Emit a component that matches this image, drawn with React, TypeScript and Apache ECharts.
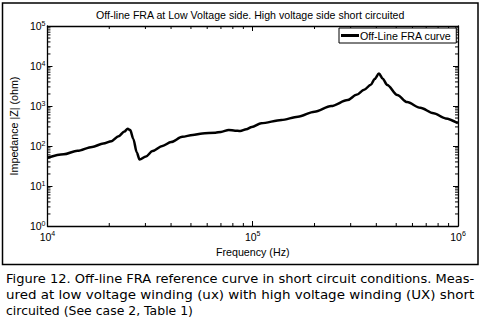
import React, { useEffect, useRef } from 'react';
import * as echarts from 'echarts';

const titleText = 'Off-line FRA at Low Voltage side. High voltage side short circuited';
const seriesName = 'Off-Line FRA curve';
const xAxisName = 'Frequency (Hz)';
const yAxisName = 'Impedance |Z| (ohm)';
const captionLines = [
  'Figure 12. Off-line FRA reference curve in short circuit conditions. Meas-',
  'ured at low voltage winding (ux) with high voltage winding (UX) short',
  'circuited (See case 2, Table 1)',
];

const freqHz = [
  10000, 12000, 14000, 16500, 18700, 20500, 22200, 23700, 24600, 25300,
  26200, 27200, 28100, 30200, 32500, 36300, 40000, 45400, 51000, 56800,
  65800, 70000, 76400, 82000, 86900, 93000, 99000, 110000, 138000, 166000,
  200000, 241000, 290000, 320000, 349000, 376000, 392000, 412000,
  430000, 452000, 506000, 565000, 655000, 760000, 870000, 1000000,
];
const impedanceOhm = [
  51, 62, 76, 95, 115, 132, 175, 230, 270, 250,
  150, 70, 46, 55, 75, 100, 125, 170, 188, 205,
  215, 225, 252, 242, 237, 262, 300, 370, 447, 540,
  720, 1000, 1410, 1900, 2550, 3400, 4700, 6500,
  4800, 3350, 1880, 1250, 900, 660, 490, 370,
];

const xMinorTicks = [
  20000, 30000, 40000, 50000, 60000, 70000, 80000, 90000,
  200000, 300000, 400000, 500000, 600000, 700000, 800000, 900000,
];
const yMinorTicks = [
  2, 3, 4, 5, 6, 7, 8, 9,
  20, 30, 40, 50, 60, 70, 80, 90,
  200, 300, 400, 500, 600, 700, 800, 900,
  2000, 3000, 4000, 5000, 6000, 7000, 8000, 9000,
  20000, 30000, 40000, 50000, 60000, 70000, 80000, 90000,
];

const X_MIN = 1e4;
const X_MAX = 1e6;
const Y_MIN = 1;
const Y_MAX = 1e5;

export default function App() {
  const ref = useRef<HTMLDivElement>(null);

  useEffect(() => {
    const chart = echarts.init(ref.current!, null, { renderer: 'svg' });
    const font = '"Liberation Sans", Arial, sans-serif';
    const supLabel = (v: number) => `{b|10}{e|${Math.round(Math.log10(v))}}`;
    const rich: any = {
      b: { fontSize: 10.5, fontFamily: font, color: '#000', lineHeight: 13 },
      e: { fontSize: 7, fontFamily: font, color: '#000', verticalAlign: 'top', lineHeight: 8 },
    };
    const axisLine = { show: true, onZero: false, lineStyle: { color: '#000', width: 1.3 } };
    const axisTick = { show: true, inside: true, length: 5, lineStyle: { color: '#000', width: 1 } };
    const xBase: any = {
      type: 'log', logBase: 10, min: X_MIN, max: X_MAX,
      splitLine: { show: false }, axisLine, axisTick,
    };
    const yBase: any = {
      type: 'log', logBase: 10, min: Y_MIN, max: Y_MAX,
      splitLine: { show: false }, axisLine, axisTick,
    };
    const nameStyle = { fontSize: 10.7, fontFamily: font, color: '#000' };

    // caption: stretch each line horizontally to the measured reference width
    const capFont = '12px "DejaVu Sans"';
    const capTargets = [469, 469, 187];
    const capMiddles = [278.4, 294.4, 310.7];
    const ctx = document.createElement('canvas').getContext('2d')!;
    ctx.font = capFont;
    const capScales = captionLines.map((t, i) => {
      const w = ctx.measureText(t).width;
      return w > 0 ? capTargets[i] / w : 1;
    });

    chart.setOption({
      animation: false,
      backgroundColor: '#fff',
      title: {
        text: titleText,
        left: 96, top: 9, padding: 0,
        textStyle: { fontSize: 10.6, fontWeight: 'normal', fontFamily: font, color: '#000' },
      },
      legend: {
        data: [{ name: seriesName, icon: 'rect' }],
        left: 339, top: 28,
        backgroundColor: '#fff', borderColor: '#000', borderWidth: 1, borderRadius: 0,
        padding: [1, 5, 1, 2], itemWidth: 18, itemHeight: 3, itemGap: 0,
        textStyle: { fontSize: 10.7, lineHeight: 13, fontFamily: font, color: '#000', padding: [0, 0, 0, -4] },
      },
      grid: { left: 44, top: 26, right: 22, bottom: 93, containLabel: false },
      xAxis: [
        {
          ...xBase, position: 'bottom',
          axisLabel: { formatter: supLabel, rich, margin: 4 },
          name: xAxisName, nameLocation: 'middle', nameGap: 16, nameTextStyle: nameStyle,
        },
        { ...xBase, position: 'top', axisLabel: { show: false } },
      ],
      yAxis: [
        {
          ...yBase, position: 'left',
          axisLabel: { formatter: supLabel, rich, margin: 2 },
          name: yAxisName, nameLocation: 'middle', nameGap: 17, nameRotate: 90, nameTextStyle: nameStyle,
        },
        { ...yBase, position: 'right', axisLabel: { show: false } },
      ],
      graphic: [
        {
          type: 'rect', shape: { x: 2.5, y: 3, width: 475.5, height: 261.5 },
          style: { fill: 'none', stroke: '#000', lineWidth: 1.5 }, silent: true,
        },
        ...captionLines.map((t, i) => ({
          type: 'text', x: 6, y: capMiddles[i], scaleX: capScales[i],
          style: { text: t, font: capFont, fill: '#000', verticalAlign: 'middle', align: 'left' },
          silent: true,
        })),
      ],
      series: [
        {
          name: seriesName, type: 'line',
          data: freqHz.map((f, i) => [f, impedanceOhm[i]]),
          symbol: 'none', smooth: 0.3, smoothMonotone: 'x',
          lineStyle: { color: '#000', width: 2.5 },
          itemStyle: { color: '#000' },
          z: 5,
        },
        {
          type: 'custom', name: 'xMinor', silent: true, clip: false,
          data: xMinorTicks.map((v) => [v, 10]),
          renderItem: (_p: any, api: any) => {
            const v = api.value(0);
            const b = api.coord([v, Y_MIN]);
            const t = api.coord([v, Y_MAX]);
            return {
              type: 'group',
              children: [
                { type: 'line', shape: { x1: b[0], y1: b[1], x2: b[0], y2: b[1] - 3 }, style: { stroke: '#000', lineWidth: 1 } },
                { type: 'line', shape: { x1: t[0], y1: t[1], x2: t[0], y2: t[1] + 3 }, style: { stroke: '#000', lineWidth: 1 } },
              ],
            };
          },
        },
        {
          type: 'custom', name: 'yMinor', silent: true, clip: false,
          data: yMinorTicks.map((v) => [1e5, v]),
          renderItem: (_p: any, api: any) => {
            const v = api.value(1);
            const l = api.coord([X_MIN, v]);
            const r = api.coord([X_MAX, v]);
            return {
              type: 'group',
              children: [
                { type: 'line', shape: { x1: l[0], y1: l[1], x2: l[0] + 3, y2: l[1] }, style: { stroke: '#000', lineWidth: 1 } },
                { type: 'line', shape: { x1: r[0], y1: r[1], x2: r[0] - 3, y2: r[1] }, style: { stroke: '#000', lineWidth: 1 } },
              ],
            };
          },
        },
      ],
    });

    return () => chart.dispose();
  }, []);

  return (
    <div
      ref={ref}
      style={{ position: 'fixed', left: 0, top: 0, width: 480, height: 319, background: '#fff' }}
    />
  );
}
